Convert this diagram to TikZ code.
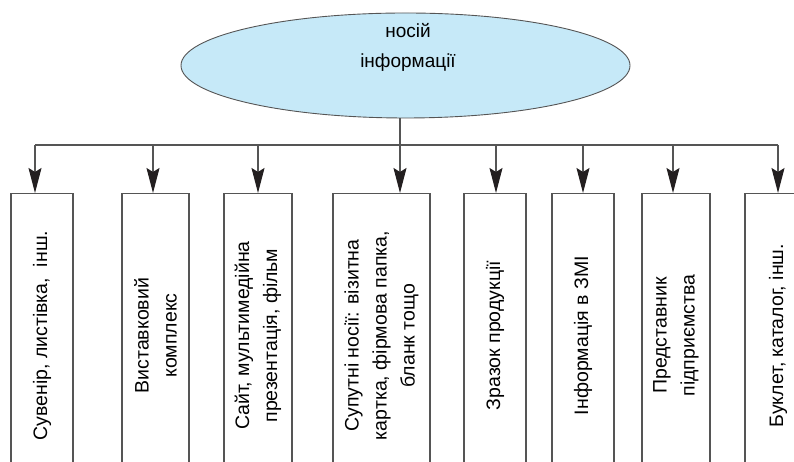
\documentclass[tikz,border=0pt]{standalone}
\usepackage{fontspec}
\setmainfont{Liberation Sans}
\usetikzlibrary{positioning, shapes.geometric, arrows.meta}
\definecolor{inkline}{HTML}{555555}
\definecolor{inkhead}{HTML}{231F20}
\definecolor{ellfill}{HTML}{C6E9F8}
\tikzset{
  carrier/.style={ellipse, draw=inkline, line width=0.9pt, fill=ellfill, inner sep=0pt, minimum width=449pt, minimum height=105pt},
  medium/.style={rectangle, draw=inkline, line width=1.2pt, rotate=90, anchor=east, minimum width=284pt, inner sep=2pt, align=center, font=\fontsize{19.5}{28}\selectfont},
  bus/.style={draw=inkline, line width=1.2pt},
  tap/.style={bus, -{Stealth[length=25pt, width=13pt, inset=4pt, inkhead]}},
}

\begin{document}
\begin{tikzpicture}[x=1pt, y=1pt]
    \clip (0,0) rectangle (794,462);
    % root
    \node[carrier] (root) at (405.5,396.5) {};
    \node[font=\fontsize{19}{30}\selectfont, align=center] (rootlabel) at (408,415) {носій\\інформації};
    % taps on the bus
    \coordinate (t1) at (35,317);
    \coordinate (t2) at (153,317);
    \coordinate (t3) at (258,317);
    \coordinate (t4) at (400,317);
    \coordinate (t5) at (496,317);
    \coordinate (t6) at (583,317);
    \coordinate (t7) at (673,317);
    \coordinate (t8) at (778,317);
    % media
    \node[medium, minimum height=62pt] (b1) at (42,269) {Сувенір, листівка,\ \ інш.};
    \node[medium, minimum height=67pt] (b2) at (155.5,269) {Виставковий\\комплекс};
    \node[medium, minimum height=68pt] (b3) at (258,269) {Сайт, мультимедійна\\презентація, фільм};
    \node[medium, minimum height=97pt] (b4) at (381.5,269) {Супутні носії: візитна\\картка, фірмова папка,\\бланк тощо};
    \node[medium, minimum height=62pt] (b5) at (495,269) {Зразок продукції};
    \node[medium, minimum height=62pt] (b6) at (583,269) {Інформація в ЗМІ};
    \node[medium, minimum height=68pt] (b7) at (676,269) {Представник\\підприємства};
    \node[medium, minimum height=66pt] (b8) at (778,269) {Буклет, каталог, інш.};
    % connectors
    \draw[bus] (root.south -| t4) -- (t4);
    \draw[bus] (t1) -- (t8);
    \foreach \i in {1,...,8}
        \draw[tap] (t\i) -- (t\i |- b\i.east);
\end{tikzpicture}
\end{document}
